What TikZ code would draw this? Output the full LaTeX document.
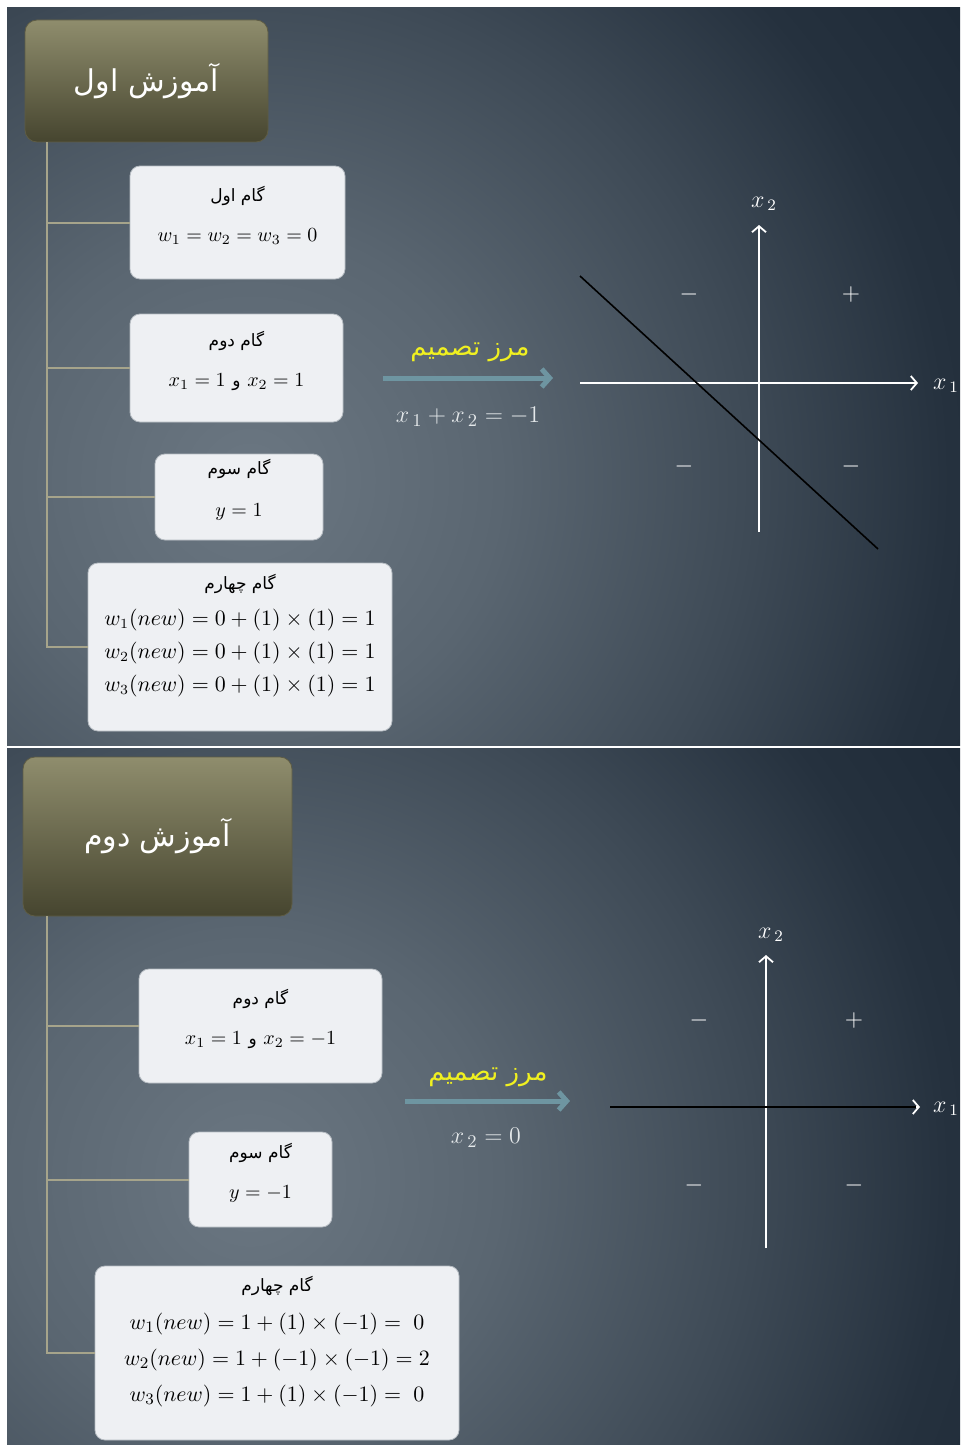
\documentclass[tikz,border=0pt]{standalone}
\usepackage{fontspec}
\usepackage{amsmath}
\usetikzlibrary{arrows.meta, positioning, calc}
\TeXXeTstate=1
\newfontfamily\arabicfont[Script=Arabic]{DejaVu Sans}
\newcommand{\fatxt}[1]{{\arabicfont\beginR #1\endR}}
\newcommand{\stephead}[1]{{\fontsize{8.5}{10}\selectfont\fatxt{#1}}}
\definecolor{slidelite} {HTML}{6B7782}
\definecolor{slidemid}  {HTML}{5A6671}
\definecolor{slidedim}  {HTML}{3E4A56}
\definecolor{slidedeep} {HTML}{25313E}
\definecolor{slidedark} {HTML}{1E2A37}
\definecolor{olivetop}  {HTML}{8F8D6D}
\definecolor{olivebot}  {HTML}{46452F}
\definecolor{oliveedge} {HTML}{5E5C44}
\definecolor{boxfill}   {HTML}{EEF0F3}
\definecolor{boxedge}   {HTML}{B5BBC1}
\definecolor{treeline}  {HTML}{A6A48B}
\definecolor{arrteal}   {HTML}{6E95A1}
\definecolor{lblyellow} {HTML}{F0F020}
\definecolor{eqgray}    {HTML}{E4E8EA}
% 25bp = 1000px of the picture
\pgfdeclareradialshading{slidebg}{\pgfpoint{0bp}{0bp}}{color(0bp)=(slidelite); color(6.25bp)=(slidemid); color(12.5bp)=(slidedim); color(17.5bp)=(slidedeep); color(21.25bp)=(slidedark); color(50bp)=(slidedark)}

\begin{document}
\begin{tikzpicture}[
    x=0.5pt, y=-0.5pt,
    title/.style={draw=oliveedge, rounded corners=6pt, top color=olivetop,
                  bottom color=olivebot, text=white, inner sep=0pt,
                  font=\fontsize{15}{19}\selectfont},
    stepbox/.style={draw=boxedge, fill=boxfill, rounded corners=5pt,
                    align=center, inner sep=0pt, text depth=9pt},
    bigbox/.style={stepbox, text depth=14pt},
    tree/.style={treeline, line width=1pt},
    bigarr/.style={arrteal, line width=2.5pt,
                   -{Straight Barb[length=4pt, width=9pt]}},
    axis/.style={white, line width=0.9pt,
                 -{Straight Barb[length=3pt, width=7pt]}},
    bound/.style={black, line width=0.8pt},
    border/.style={text=lblyellow, font=\fontsize{13}{16}\selectfont},
    eqlbl/.style={text=eqgray, font=\fontsize{13}{16}\selectfont},
    axlbl/.style={text=white, font=\fontsize{12}{14}\selectfont},
    sign/.style={text=white, font=\fontsize{12}{14}\selectfont},
  ]
    \useasboundingbox (0,0) rectangle (960,1445);
    \fill[white] (0,0) rectangle (960,1445);
    \begin{scope}
      \clip (7,8) rectangle (960,745);
      \shade[shading=slidebg] (-750,-520) rectangle (1250,1480);
    \end{scope}
    \begin{scope}
      \clip (7,748) rectangle (960,1445);
      \shade[shading=slidebg] (-750,180) rectangle (1250,2180);
    \end{scope}

    % Slide 1: first training
    \node[title, minimum width=121.5pt, minimum height=61pt] (t1) at (146.5,81)
      {\fatxt{آموزش اول}};
    \node[stepbox, minimum width=107.5pt, minimum height=56.5pt,
          font=\fontsize{10}{20}\selectfont] (b11) at (237.5,222.5)
      {\stephead{گام اول}\\ $w_1 = w_2 = w_3 = 0$};
    \node[stepbox, minimum width=106.5pt, minimum height=54pt,
          font=\fontsize{10}{20}\selectfont] (b12) at (236.5,368)
      {\stephead{گام دوم}\\ $x_1 = 1$ \stephead{و} $x_2 = 1$};
    \node[stepbox, minimum width=84pt, minimum height=43pt,
          font=\fontsize{10}{21}\selectfont] (b13) at (239,497)
      {\stephead{گام سوم}\\ $y = 1$};
    \node[bigbox, minimum width=152pt, minimum height=84pt,
          font=\fontsize{10.7}{16.5}\selectfont] (b14) at (240,647)
      {\stephead{گام چهارم}\\[1.5pt]
       $w_1(new) = 0 + (1) \times (1) = 1$\\
       $w_2(new) = 0 + (1) \times (1) = 1$\\
       $w_3(new) = 0 + (1) \times (1) = 1$};

    \coordinate (trunk1) at (47,142);
    \draw[tree] (trunk1) |- (b14.west);
    \foreach \b in {b11, b12, b13}
      \draw[tree] (trunk1 |- \b.west) -- (\b.west);

    \coordinate (a1s) at (383,378);
    \coordinate (a1e) at (553,378);
    \draw[bigarr] (a1s) -- (a1e);
    \node[border] (m1) at (470,352) {\fatxt{مرز تصمیم}};
    \node[eqlbl] (e1) at (468,417) {$x_{\,1} + x_{\,2} = -1$};

    \coordinate (x1l) at (580,383);
    \coordinate (x1r) at (918,383);
    \coordinate (y1b) at (759,532);
    \coordinate (y1t) at (759,225);
    \draw[axis] (x1l) -- (x1r);
    \draw[axis] (y1b) -- (y1t);
    \node[axlbl] (lx11) at (946,386) {$x_{\,1}$};
    \node[axlbl] (lx12) at (764,204) {$x_{\,2}$};
    \node[sign] (s11) at (689,294) {$-$};
    \node[sign] (s12) at (851,294) {$+$};
    \node[sign] (s13) at (684,466) {$-$};
    \node[sign] (s14) at (851,466) {$-$};
    \coordinate (d1a) at (580,276);
    \coordinate (d1b) at (878,549);
    \draw[bound] (d1a) -- (d1b);

    % Slide 2: second training
    \node[title, minimum width=134.5pt, minimum height=79.5pt] (t2) at (157.5,836.5)
      {\fatxt{آموزش دوم}};
    \node[stepbox, minimum width=121.5pt, minimum height=57pt,
          font=\fontsize{10}{20}\selectfont] (b21) at (260.5,1026)
      {\stephead{گام دوم}\\ $x_1 = 1$ \stephead{و} $x_2 = -1$};
    \node[stepbox, minimum width=71.5pt, minimum height=47.5pt,
          font=\fontsize{10}{20}\selectfont] (b22) at (260.5,1179.5)
      {\stephead{گام سوم}\\ $y = -1$};
    \node[bigbox, minimum width=182pt, minimum height=87pt,
          font=\fontsize{11}{18}\selectfont] (b23) at (277,1353)
      {\stephead{گام چهارم}\\[1pt]
       $w_1(new) = 1 + (1) \times (-1) = \;0$\\
       $w_2(new) = 1 + (-1) \times (-1) = 2$\\
       $w_3(new) = 1 + (1) \times (-1) = \;0$};

    \coordinate (trunk2) at (47,916);
    \draw[tree] (trunk2) |- (b23.west);
    \foreach \b in {b21, b22}
      \draw[tree] (trunk2 |- \b.west) -- (\b.west);

    \coordinate (a2s) at (405,1101);
    \coordinate (a2e) at (570,1101);
    \draw[bigarr] (a2s) -- (a2e);
    \node[border] (m2) at (488,1077) {\fatxt{مرز تصمیم}};
    \node[eqlbl] (e2) at (486,1138) {$x_{\,2} = 0$};

    \coordinate (x2l) at (610,1107);
    \coordinate (x2r) at (920,1107);
    \coordinate (y2b) at (766,1248);
    \coordinate (y2t) at (766,955);
    \draw[axis] (x2l) -- (x2r);
    \draw[axis] (y2b) -- (y2t);
    \node[axlbl] (lx21) at (946,1109) {$x_{\,1}$};
    \node[axlbl] (lx22) at (771,935) {$x_{\,2}$};
    \node[sign] (s21) at (699,1020) {$-$};
    \node[sign] (s22) at (854,1020) {$+$};
    \node[sign] (s23) at (694,1185) {$-$};
    \node[sign] (s24) at (854,1185) {$-$};
    \coordinate (d2a) at (610,1107);
    \coordinate (d2b) at (916,1107);
    \draw[bound, line width=1.2pt] (d2a) -- (d2b);
\end{tikzpicture}
\end{document}
